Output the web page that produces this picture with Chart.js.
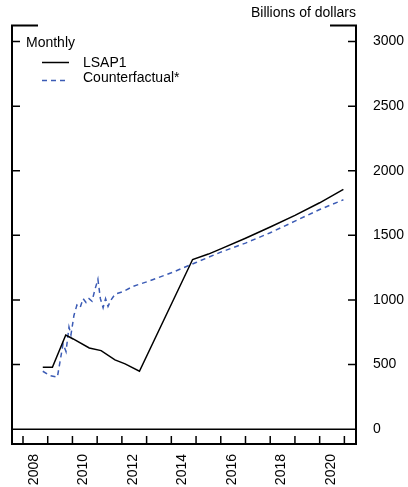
<!DOCTYPE html>
<html lang="en">
<head>
  <meta charset="UTF-8">
  <title>LSAP1 vs Counterfactual</title>
  <style>
    body { margin: 0; padding: 0; background: #fff; }
    canvas { display: block; }
  </style>
</head>
<body>
  <canvas id="lsapChart" width="408" height="487"></canvas>

  <script src="https://cdn.jsdelivr.net/npm/chart.js"></script>
  <script>
    // Data (year as decimal, billions of dollars)
    const lsapYears = [2008.80, 2009.19, 2009.73, 2010.03, 2010.68, 2011.16, 2011.72, 2012.13, 2012.71,
                       2014.86, 2015.5, 2016.0, 2017.0, 2018.0, 2019.0, 2020.0, 2020.96];
    const lsapValues = [479, 479, 728, 698, 628, 608, 536, 505, 448,
                        1313, 1355, 1395, 1478, 1565, 1655, 1752, 1856];

    const cfYears = [2008.80, 2009.09, 2009.39, 2009.62, 2009.74, 2009.86, 2009.94, 2010.06, 2010.18,
                     2010.31, 2010.43, 2010.55, 2010.67, 2010.79, 2010.91, 2011.03, 2011.13, 2011.24,
                     2011.34, 2011.44, 2011.56, 2011.72, 2012.05, 2012.45, 2013.0, 2014.0, 2015.0,
                     2016.0, 2017.0, 2018.0, 2019.0, 2020.0, 2020.96];
    const cfValues = [448, 415, 402, 660, 600, 790, 730, 880, 960,
                      940, 1010, 980, 1010, 990, 1080, 1160, 1010, 940,
                      1010, 950, 1000, 1044, 1065, 1105, 1140, 1210, 1290,
                      1370, 1440, 1520, 1610, 1700, 1775];

    const xLabelYears = [2008, 2010, 2012, 2014, 2016, 2018, 2020];
    const xTickYears = [2008, 2009, 2010, 2011, 2012, 2013, 2014, 2015, 2016, 2017, 2018, 2019, 2020, 2021];
    const yTickValues = [0, 500, 1000, 1500, 2000, 2500, 3000];

    const FONT = 'Arial, "Liberation Sans", sans-serif';
    const BLUE = '#3b5bb5';

    // frame, zero line, inward ticks, unit label and legend
    const framePlugin = {
      id: 'frame',
      afterDraw(chart) {
        const c = chart.ctx;
        const a = chart.chartArea;
        const xs = chart.scales.x;
        const ys = chart.scales.y;
        c.save();
        c.strokeStyle = '#000';
        c.lineWidth = 2;
        c.beginPath();
        c.moveTo(38, a.top); c.lineTo(a.left, a.top); c.lineTo(a.left, a.bottom);
        c.lineTo(a.right, a.bottom); c.lineTo(a.right, a.top); c.lineTo(330, a.top);
        c.stroke();

        c.lineWidth = 1.5;
        c.beginPath();
        const y0 = ys.getPixelForValue(0);
        c.moveTo(a.left, y0); c.lineTo(a.right, y0);
        yTickValues.forEach(v => {
          const y = ys.getPixelForValue(v);
          c.moveTo(a.left, y); c.lineTo(a.left + 8, y);
          c.moveTo(a.right, y); c.lineTo(a.right - 8, y);
        });
        xTickYears.forEach(v => {
          const x = xs.getPixelForValue(v);
          c.moveTo(x, a.bottom); c.lineTo(x, a.bottom - 8);
        });
        c.stroke();

        c.fillStyle = '#000';
        c.font = '14px ' + FONT;
        c.textAlign = 'right';
        c.fillText('Billions of dollars', a.right, 17);
        c.textAlign = 'left';
        c.fillText('Monthly', 26, 47);
        c.fillText('LSAP1', 83, 66.5);
        c.fillText('Counterfactual*', 83, 82);

        c.lineWidth = 1.5;
        c.beginPath();
        c.moveTo(42, 62.5); c.lineTo(69, 62.5);
        c.stroke();
        c.strokeStyle = BLUE;
        c.setLineDash([5, 4]);
        c.beginPath();
        c.moveTo(42, 80.5); c.lineTo(69, 80.5);
        c.stroke();
        c.restore();
      }
    };

    const ctx = document.getElementById('lsapChart');
    new Chart(ctx, {
      type: 'line',
      data: {
        datasets: [
          {
            label: 'LSAP1',
            data: lsapYears.map((x, i) => ({ x, y: lsapValues[i] })),
            borderColor: '#000',
            borderWidth: 1.5,
            pointRadius: 0,
            tension: 0
          },
          {
            label: 'Counterfactual*',
            data: cfYears.map((x, i) => ({ x, y: cfValues[i] })),
            borderColor: BLUE,
            borderWidth: 1.5,
            borderDash: [5, 4],
            pointRadius: 0,
            tension: 0
          }
        ]
      },
      options: {
        responsive: false,
        animation: false,
        devicePixelRatio: 1,
        layout: { padding: { top: 23, left: 12, right: 0, bottom: 0 } },
        plugins: { legend: { display: false }, tooltip: { enabled: false } },
        scales: {
          x: {
            type: 'linear',
            min: 2007.555,
            max: 2021.47,
            afterBuildTicks: s => { s.ticks = xLabelYears.map(v => ({ value: v + 0.45 })); },
            afterFit: s => { s.height = 43; },
            grid: { display: false, drawTicks: false, tickLength: 0 },
            border: { display: false },
            ticks: {
              autoSkip: false,
              minRotation: 90,
              maxRotation: 90,
              padding: 10,
              color: '#000',
              font: { size: 14, family: FONT },
              callback: v => String(Math.floor(v))
            }
          },
          y: {
            position: 'right',
            min: -115,
            max: 3125,
            afterBuildTicks: s => { s.ticks = yTickValues.map(v => ({ value: v })); },
            afterFit: s => { s.width = 52; },
            grid: { display: false, drawTicks: false, tickLength: 0 },
            border: { display: false },
            ticks: {
              padding: 17,
              color: '#000',
              font: { size: 14, family: FONT },
              callback: v => String(v)
            }
          }
        }
      },
      plugins: [framePlugin]
    });
  </script>
</body>
</html>
